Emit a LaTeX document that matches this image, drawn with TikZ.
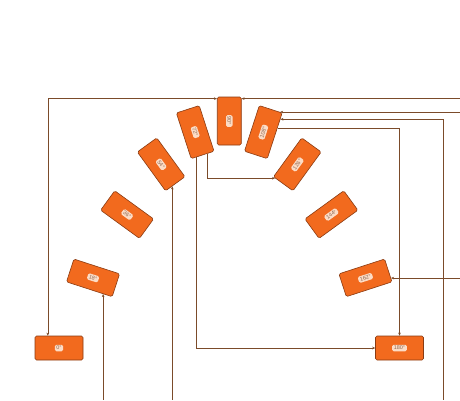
\documentclass[tikz,border=0pt]{standalone}
\usepackage{fontspec}
\setmainfont{Liberation Sans}
\usetikzlibrary{calc,arrows.meta}
\definecolor{boxfill}{HTML}{F26A1E}
\definecolor{boxline}{HTML}{8A3B12}
\definecolor{wire}{HTML}{7B4B2A}
\definecolor{pillfill}{HTML}{FCDCC6}
\definecolor{pilltext}{HTML}{8E6A55}
\tikzset{
  stagebox/.style={draw=boxline, fill=boxfill, line width=0.6pt, rounded corners=1.5pt,
    minimum width=48pt, minimum height=24pt, inner sep=0pt},
  pill/.style={fill=pillfill, text=pilltext, rounded corners=1.5pt, inner xsep=1.6pt,
    inner ysep=1.3pt, font=\fontsize{5.5}{6}\selectfont},
  wirestyle/.style={draw=wire, line width=0.6pt},
  tip/.style={-{Stealth[length=3pt,width=2.6pt]}},
  rtip/.style={{Stealth[length=3pt,width=2.6pt]}-},
  btip/.style={{Stealth[length=3pt,width=2.6pt]}-{Stealth[length=3pt,width=2.6pt]}}
}
\begin{document}
\begin{tikzpicture}[x=1pt,y=1pt]
\useasboundingbox (0,0) rectangle (460,400);
\fill[white] (0,0) rectangle (460,400);
\coordinate (eR) at (460,0);
\coordinate (eB) at (0,0);
\coordinate (eD) at (443.5,0);
% nodes
\foreach \a/\r [count=\i from 0] in {0/0,18/-18,36/-36,54/-54,72/-72,90/-90,108/72,126/54,144/36,162/18,180/0}{
  \node[stagebox, rotate=\r] (n\a) at ({59+34.05*\i},{52+227*sin(\a)}) {};
  \node[pill, rotate=\r] (l\a) at (n\a.center) {\a°};
}
% ports
\coordinate (pA0) at ($(n0.north west)!0.27!(n0.north east)$);
\coordinate (pA90) at ($(n90.south west)!0.04!(n90.south east)$);
\coordinate (pB) at ($(n90.north west)!0.04!(n90.north east)$);
\coordinate (pC) at ($(n108.south east)!0.1!(n108.north east)$);
\coordinate (pD) at ($(n108.south east)!0.14!(n108.south west)$);
\coordinate (pE) at ($(n108.south east)!0.33!(n108.south west)$);
\coordinate (pF72) at ($(n72.south east)!0.70!(n72.north east)$);
\coordinate (pF126) at ($(n126.north west)!0.1!(n126.south west)$);
\coordinate (pG72) at ($(n72.south east)!0.22!(n72.north east)$);
\coordinate (pH) at ($(n54.south east)!0.34!(n54.north east)$);
\coordinate (pI) at ($(n18.south west)!0.80!(n18.south east)$);
\coordinate (pJ) at ($(n162.south east)!0.17!(n162.north east)$);
% connectors
\draw[wirestyle, btip] (pA0) |- (pA90);
\draw[wirestyle, rtip] (pB) -- (pB -| eR);
\draw[wirestyle, rtip] (pC) -- (pC -| eR);
\draw[wirestyle, rtip] (pD) -| (eD);
\draw[wirestyle, tip] (pE) -| (n180.north);
\draw[wirestyle, tip] (pF72) |- (pF126);
\draw[wirestyle, tip] (pG72) |- (n180.west);
\draw[wirestyle, rtip] (pH) -- (pH |- eB);
\draw[wirestyle, rtip] (pI) -- (pI |- eB);
\draw[wirestyle, rtip] (pJ) -- (pJ -| eR);
\end{tikzpicture}
\end{document}
